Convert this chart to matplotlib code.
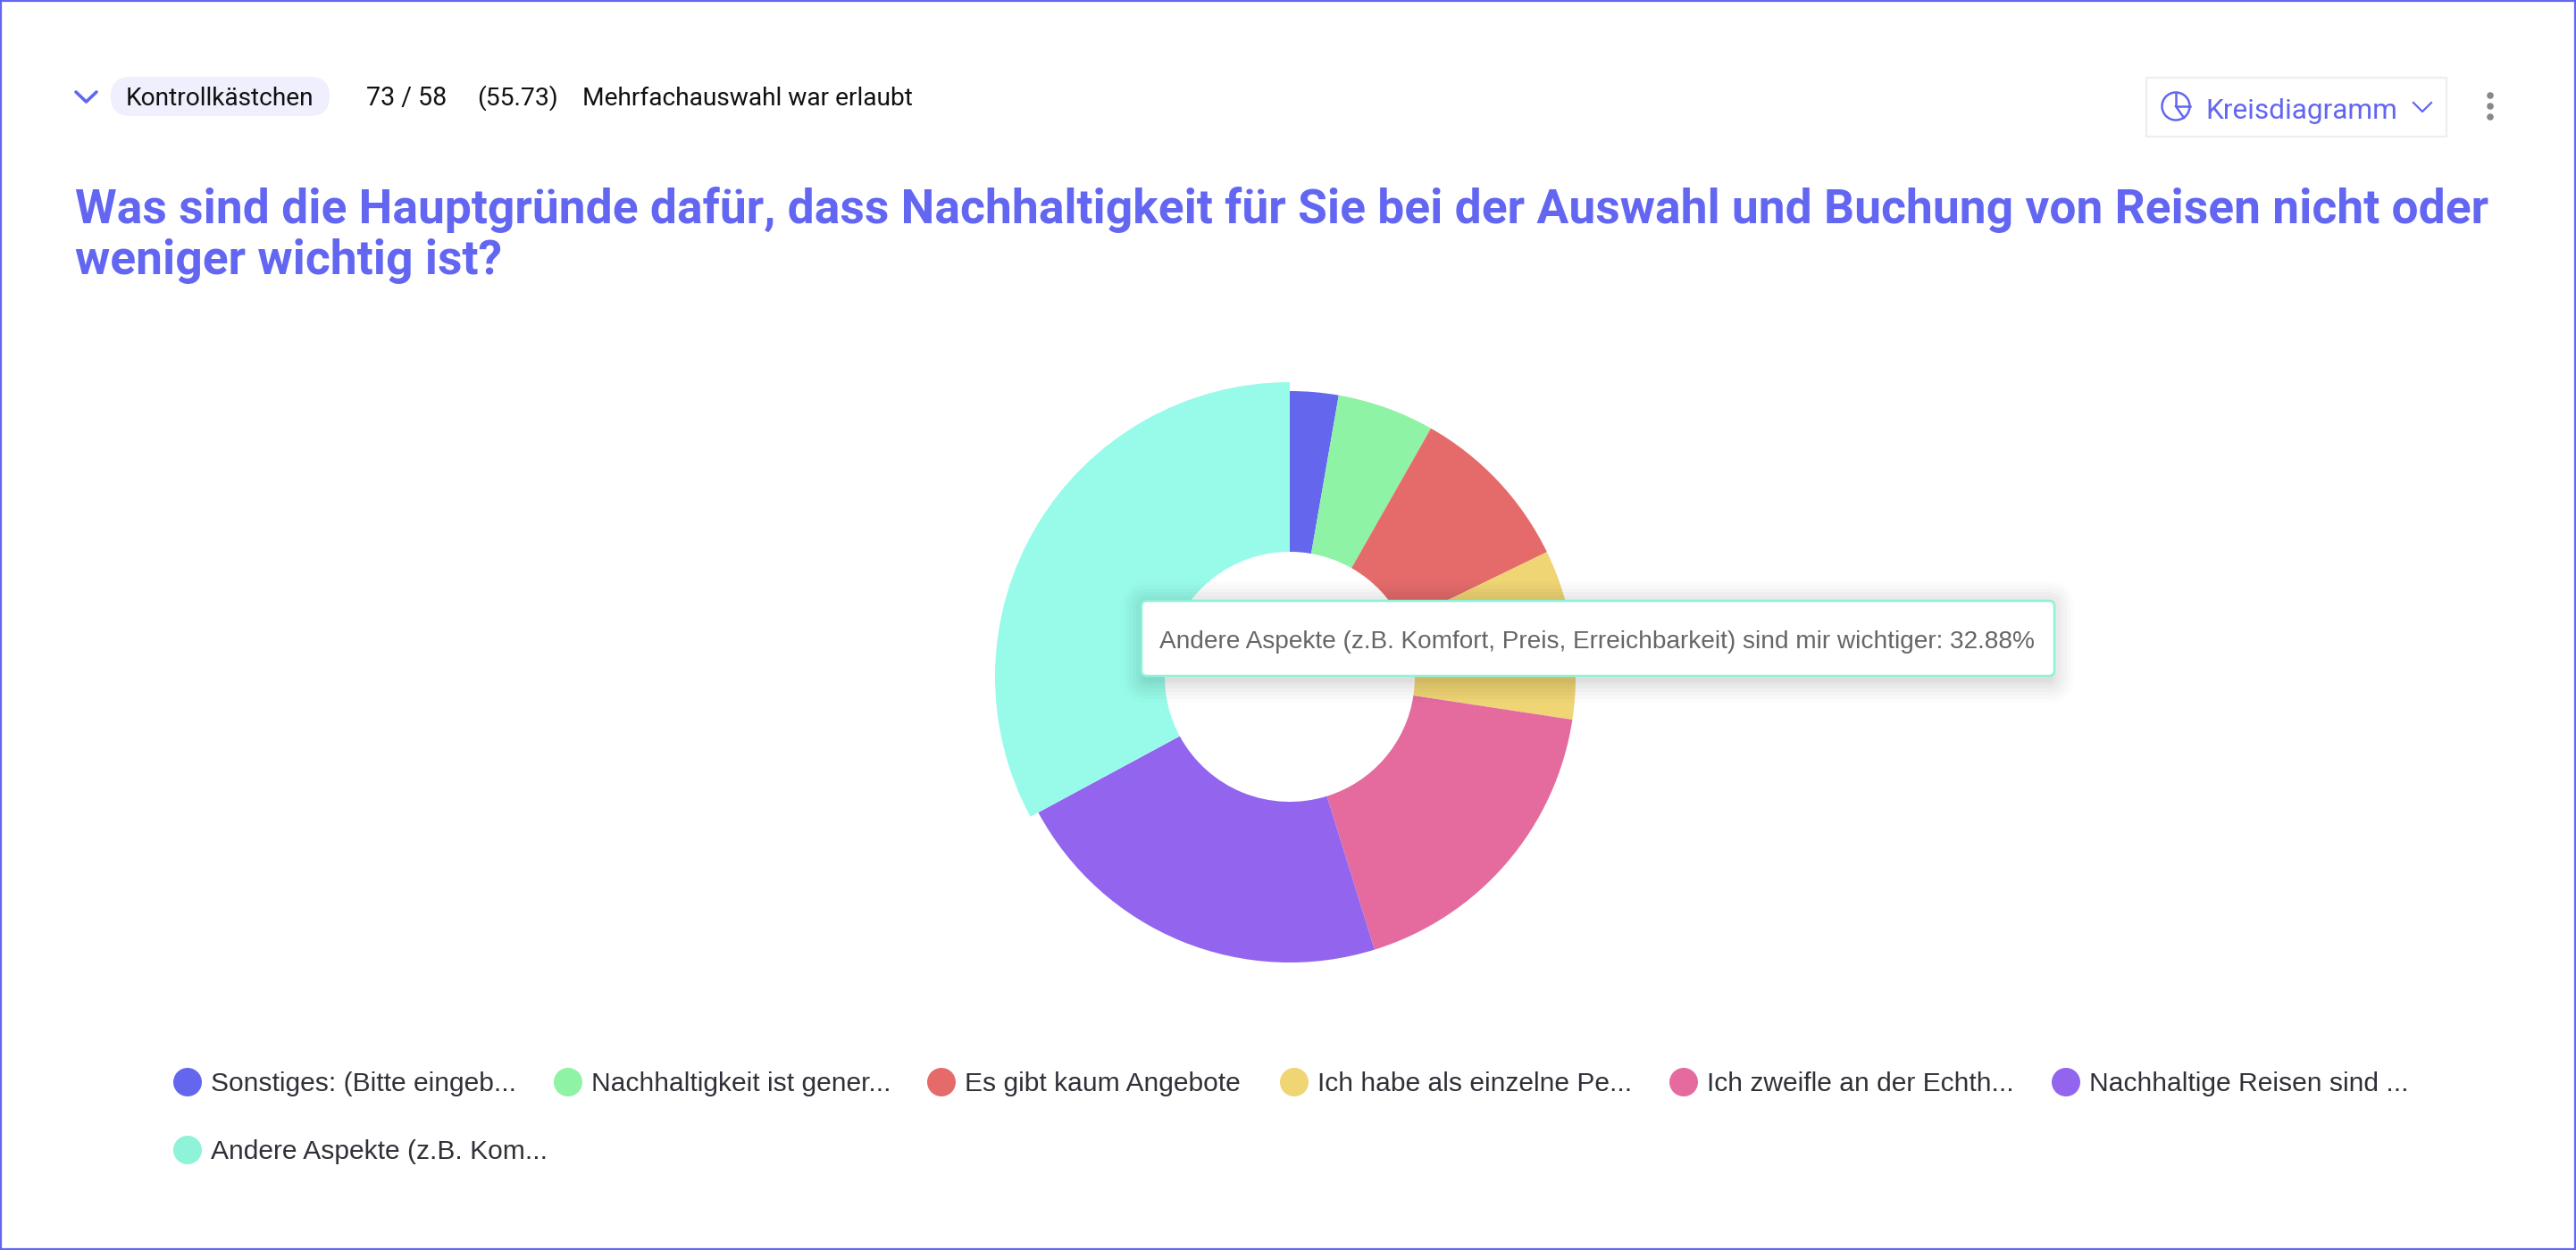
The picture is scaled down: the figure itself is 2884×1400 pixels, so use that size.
import matplotlib
matplotlib.use("Agg")
import matplotlib.pyplot as plt
from matplotlib.patches import FancyBboxPatch, Rectangle, Circle

W, H = 2884, 1400

# ---- data ----
legend_labels = ["Sonstiges: (Bitte eingeb...", "Nachhaltigkeit ist gener...", "Es gibt kaum Angebote",
                 "Ich habe als einzelne Pe...", "Ich zweifle an der Echth...", "Nachhaltige Reisen sind ...",
                 "Andere Aspekte (z.B. Kom..."]
counts = [2, 4, 7, 7, 13, 16, 24]
slice_colors = ["#6467EE", "#8EF3A5", "#E56B6B", "#EFD574", "#E56B9F", "#9364ED", "#98FBE9"]
legend_colors = ["#6467EE", "#8EF3A5", "#E56B6B", "#EFD574", "#E56B9F", "#9364ED", "#8EF3D8"]
tooltip_text = "Andere Aspekte (z.B. Komfort, Preis, Erreichbarkeit) sind mir wichtiger: 32.88%"
title_lines = ["Was sind die Hauptgründe dafür, dass Nachhaltigkeit für Sie bei der Auswahl und Buchung von Reisen nicht oder",
               "weniger wichtig ist?"]
type_label = "Kontrollkästchen"
answer_count = "73 / 58"
answer_pct = "(55.73)"
multi_note = "Mehrfachauswahl war erlaubt"
chart_type = "Kreisdiagramm"

BLUE = "#6366F1"
UI_FONT = ["Roboto", "DejaVu Sans"]
CHART_FONT = ["Liberation Sans", "DejaVu Sans"]

fig = plt.figure(figsize=(W / 100, H / 100), dpi=100, facecolor="white")
ax = fig.add_axes([0, 0, 1, 1])

def Y(y):
    return H - y

# ---- pie ----
CX, CY, R, HOLE, R_HOVER = 1444, 758, 320, 140, 330
wedges, _ = ax.pie(counts, colors=slice_colors, startangle=90, counterclock=False,
                   center=(CX, Y(CY)), radius=R, wedgeprops=dict(width=R - HOLE, linewidth=0),
                   frame=True)
wedges[-1].set_radius(R_HOVER)
wedges[-1].set_width(R_HOVER - HOLE)

ax.set_xlim(0, W)
ax.set_ylim(0, H)
ax.set_aspect("equal")
ax.axis("off")
fig.canvas.draw()
renderer = fig.canvas.get_renderer()

def fit_text(x, y, s, width, color, family, weight="normal", guess=20, **kw):
    t = ax.text(x, Y(y), s, color=color, family=family, weight=weight, fontsize=guess,
                ha="left", va="baseline", zorder=kw.pop("zorder", 10), **kw)
    t.set_fontsize(guess * width / t.get_window_extent(renderer).width)
    return t

# ---- outer frame ----
ax.add_patch(Rectangle((1, 1), W - 2, H - 2, fill=False, ec=BLUE, lw=1.6, zorder=20))

# ---- header ----
ax.plot([85, 96.5, 108], [Y(103), Y(114), Y(103)], color=BLUE, lw=2.6, solid_capstyle="round", zorder=5)
ax.add_patch(FancyBboxPatch((124 + 22, Y(130) + 22), 245 - 44, 0,
                            boxstyle="round,pad=22,rounding_size=22", lw=0, fc="#EFEFFD", zorder=4))
fit_text(141, 118, type_label, 211, "#111111", UI_FONT)
fit_text(410, 118, answer_count, 90, "#111111", UI_FONT)
fit_text(534, 118, answer_pct, 91, "#111111", UI_FONT)
fit_text(652, 118, multi_note, 371, "#111111", UI_FONT)

# ---- title ----
t1 = fit_text(84, 250, title_lines[0], 2701, BLUE, UI_FONT, weight="bold", guess=40)
t2 = ax.text(84, Y(307), title_lines[1], color=BLUE, family=UI_FONT, weight="bold",
             fontsize=t1.get_fontsize(), ha="left", va="baseline", zorder=10)

# ---- chart type button ----
ax.add_patch(Rectangle((2403, Y(152.5)), 336, 66, fill=True, fc="white", ec="#EEEEEE", lw=1.6, zorder=3))
ax.add_patch(Circle((2436, Y(119)), 15.5, fill=False, ec=BLUE, lw=1.8, zorder=5))
ax.plot([2436, 2436, 2451.5], [Y(103.5), Y(119), Y(119)], color=BLUE, lw=1.8, zorder=5)
ax.plot([2436, 2445], [Y(119), Y(132)], color=BLUE, lw=1.8, zorder=5)
fit_text(2469.5, 133, chart_type, 215, BLUE, UI_FONT)
ax.plot([2702, 2712, 2722], [Y(115), Y(125), Y(115)], color=BLUE, lw=1.6, zorder=5)
for dy in (107, 119, 131):
    ax.add_patch(Circle((2788, Y(dy)), 3.8, fc="#888888", lw=0, zorder=5))

# ---- tooltip ----
TX0, TX1, TY0, TY1 = 1278, 2300, 673, 757
for grow, a in [(26, .012), (22, .014), (18, .016), (14, .018), (10, .02), (6, .022), (3, .024)]:
    ax.add_patch(FancyBboxPatch((TX0 + 4, Y(TY1 + 4)), TX1 - TX0 - 8, TY1 - TY0,
                                boxstyle=f"round,pad={grow},rounding_size={grow + 4}",
                                fc="black", alpha=a, lw=0, zorder=6))
ax.add_patch(FancyBboxPatch((TX0 + 6, Y(TY1) + 6), TX1 - TX0 - 12, TY1 - TY0 - 12,
                            boxstyle="round,pad=6,rounding_size=6", fc="white", ec="#8EF3D8", lw=1.8, zorder=7))
fit_text(1298, 726, tooltip_text, 980, "#666666", CHART_FONT, guess=20)

# ---- legend ----
legend_x = [210, 636, 1054, 1449, 1885, 2313, 210]
legend_y = [1212, 1212, 1212, 1212, 1212, 1212, 1288]
for lab, col, x, y in zip(legend_labels, legend_colors, legend_x, legend_y):
    ax.add_patch(Circle((x, Y(y)), 16, fc=col, lw=0, zorder=5))
    ax.text(x + 26, Y(y + 10.5), lab, color="#303038", family=CHART_FONT, fontsize=21.6,
            ha="left", va="baseline", zorder=5)

fig.savefig("out.png", dpi=100)
